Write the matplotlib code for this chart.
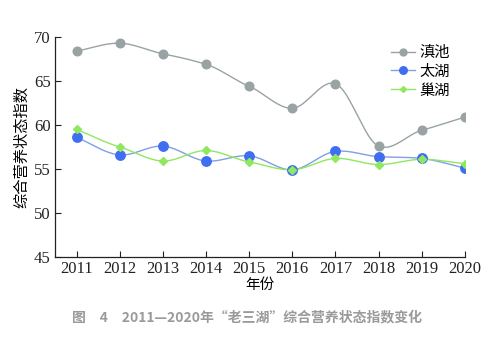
import numpy as np
import matplotlib
matplotlib.use("Agg")
import matplotlib.pyplot as plt

years = [2011, 2012, 2013, 2014, 2015, 2016, 2017, 2018, 2019, 2020]
dianchi = [68.4, 69.3, 68.1, 66.9, 64.4, 61.9, 64.7, 57.6, 59.4, 60.9]
taihu = [58.6, 56.6, 57.6, 55.9, 56.5, 54.9, 57.0, 56.4, 56.2, 55.1]
chaohu = [59.5, 57.5, 55.9, 57.1, 55.8, 54.9, 56.2, 55.5, 56.1, 55.6]
names = ["滇池", "太湖", "巢湖"]
yticks = [45, 50, 55, 60, 65, 70]

CJK = ["Noto Sans CJK SC", "DejaVu Sans"]
SERIF = ["Liberation Serif", "DejaVu Serif"]


def smooth(x, y, n=20):
    # cubic Hermite curve through the data points (drawing only)
    x = np.asarray(x, float)
    y = np.asarray(y, float)
    m = np.zeros_like(y)
    m[1:-1] = 0.8 * (y[2:] - y[:-2]) / (x[2:] - x[:-2])
    m[0] = (y[1] - y[0]) / (x[1] - x[0])
    m[-1] = (y[-1] - y[-2]) / (x[-1] - x[-2])
    xs, ys = [], []
    for i in range(len(x) - 1):
        h = x[i + 1] - x[i]
        t = np.linspace(0, 1, n, endpoint=False)
        h00 = 2 * t**3 - 3 * t**2 + 1
        h10 = t**3 - 2 * t**2 + t
        h01 = -2 * t**3 + 3 * t**2
        h11 = t**3 - t**2
        xs.append(x[i] + t * h)
        ys.append(h00 * y[i] + h10 * h * m[i] + h01 * y[i + 1] + h11 * h * m[i + 1])
    xs.append([x[-1]])
    ys.append([y[-1]])
    return np.concatenate(xs), np.concatenate(ys)


fig = plt.figure(figsize=(4.95, 3.43), dpi=100)
ax = fig.add_axes([0.111, 0.251, 0.828, 0.641])

styles = [
    (dianchi, "#9aa3a3", "#9aa3a3", "o", 6.2),
    (taihu, "#7f9fe6", "#3f6ff0", "o", 6.8),
    (chaohu, "#8fe860", "#8fe860", "D", 3.8),
]
for (vals, lc, mc, mk, ms), name in zip(styles, names):
    sx, sy = smooth(years, vals)
    ax.plot(sx, sy, color=lc, lw=1.0, zorder=2)
    ax.plot(years, vals, ls="none", marker=mk, ms=ms, color=mc, mec=mc, zorder=3)
    ax.plot([], [], color=lc, lw=1.0, marker=mk, ms=ms * 0.8, mfc=mc, mec=mc, label=name)

ax.set_xlim(2010.5, 2020)
ax.set_ylim(45, 70)
ax.set_xticks(years)
ax.set_yticks(yticks)
ax.set_xticklabels([str(y) for y in years], family=SERIF, fontsize=12)
ax.set_yticklabels([str(v) for v in yticks], family=SERIF, fontsize=12)
ax.tick_params(direction="in", length=4, width=0.8, colors="#222222", pad=3)
for s in ["top", "right"]:
    ax.spines[s].set_visible(False)
for s in ["left", "bottom"]:
    ax.spines[s].set_color("#222222")
    ax.spines[s].set_linewidth(0.9)

ax.set_xlabel("年份", family=CJK, fontsize=10.5, labelpad=1)
ax.set_ylabel("综合营养状态指数", family=CJK, fontsize=11, labelpad=3)

leg = ax.legend(loc="upper right", bbox_to_anchor=(0.985, 1.01), frameon=False,
                prop={"family": CJK, "size": 11}, handlelength=1.6,
                handletextpad=0.25, labelspacing=0.12, borderaxespad=0.2)

fig.text(0.5, 0.075, "图　4　2011—2020年“老三湖”综合营养状态指数变化",
         ha="center", va="center", family=CJK, fontsize=10, fontweight="bold",
         color="#9a9a9a")

fig.savefig("out.png", dpi=100)
